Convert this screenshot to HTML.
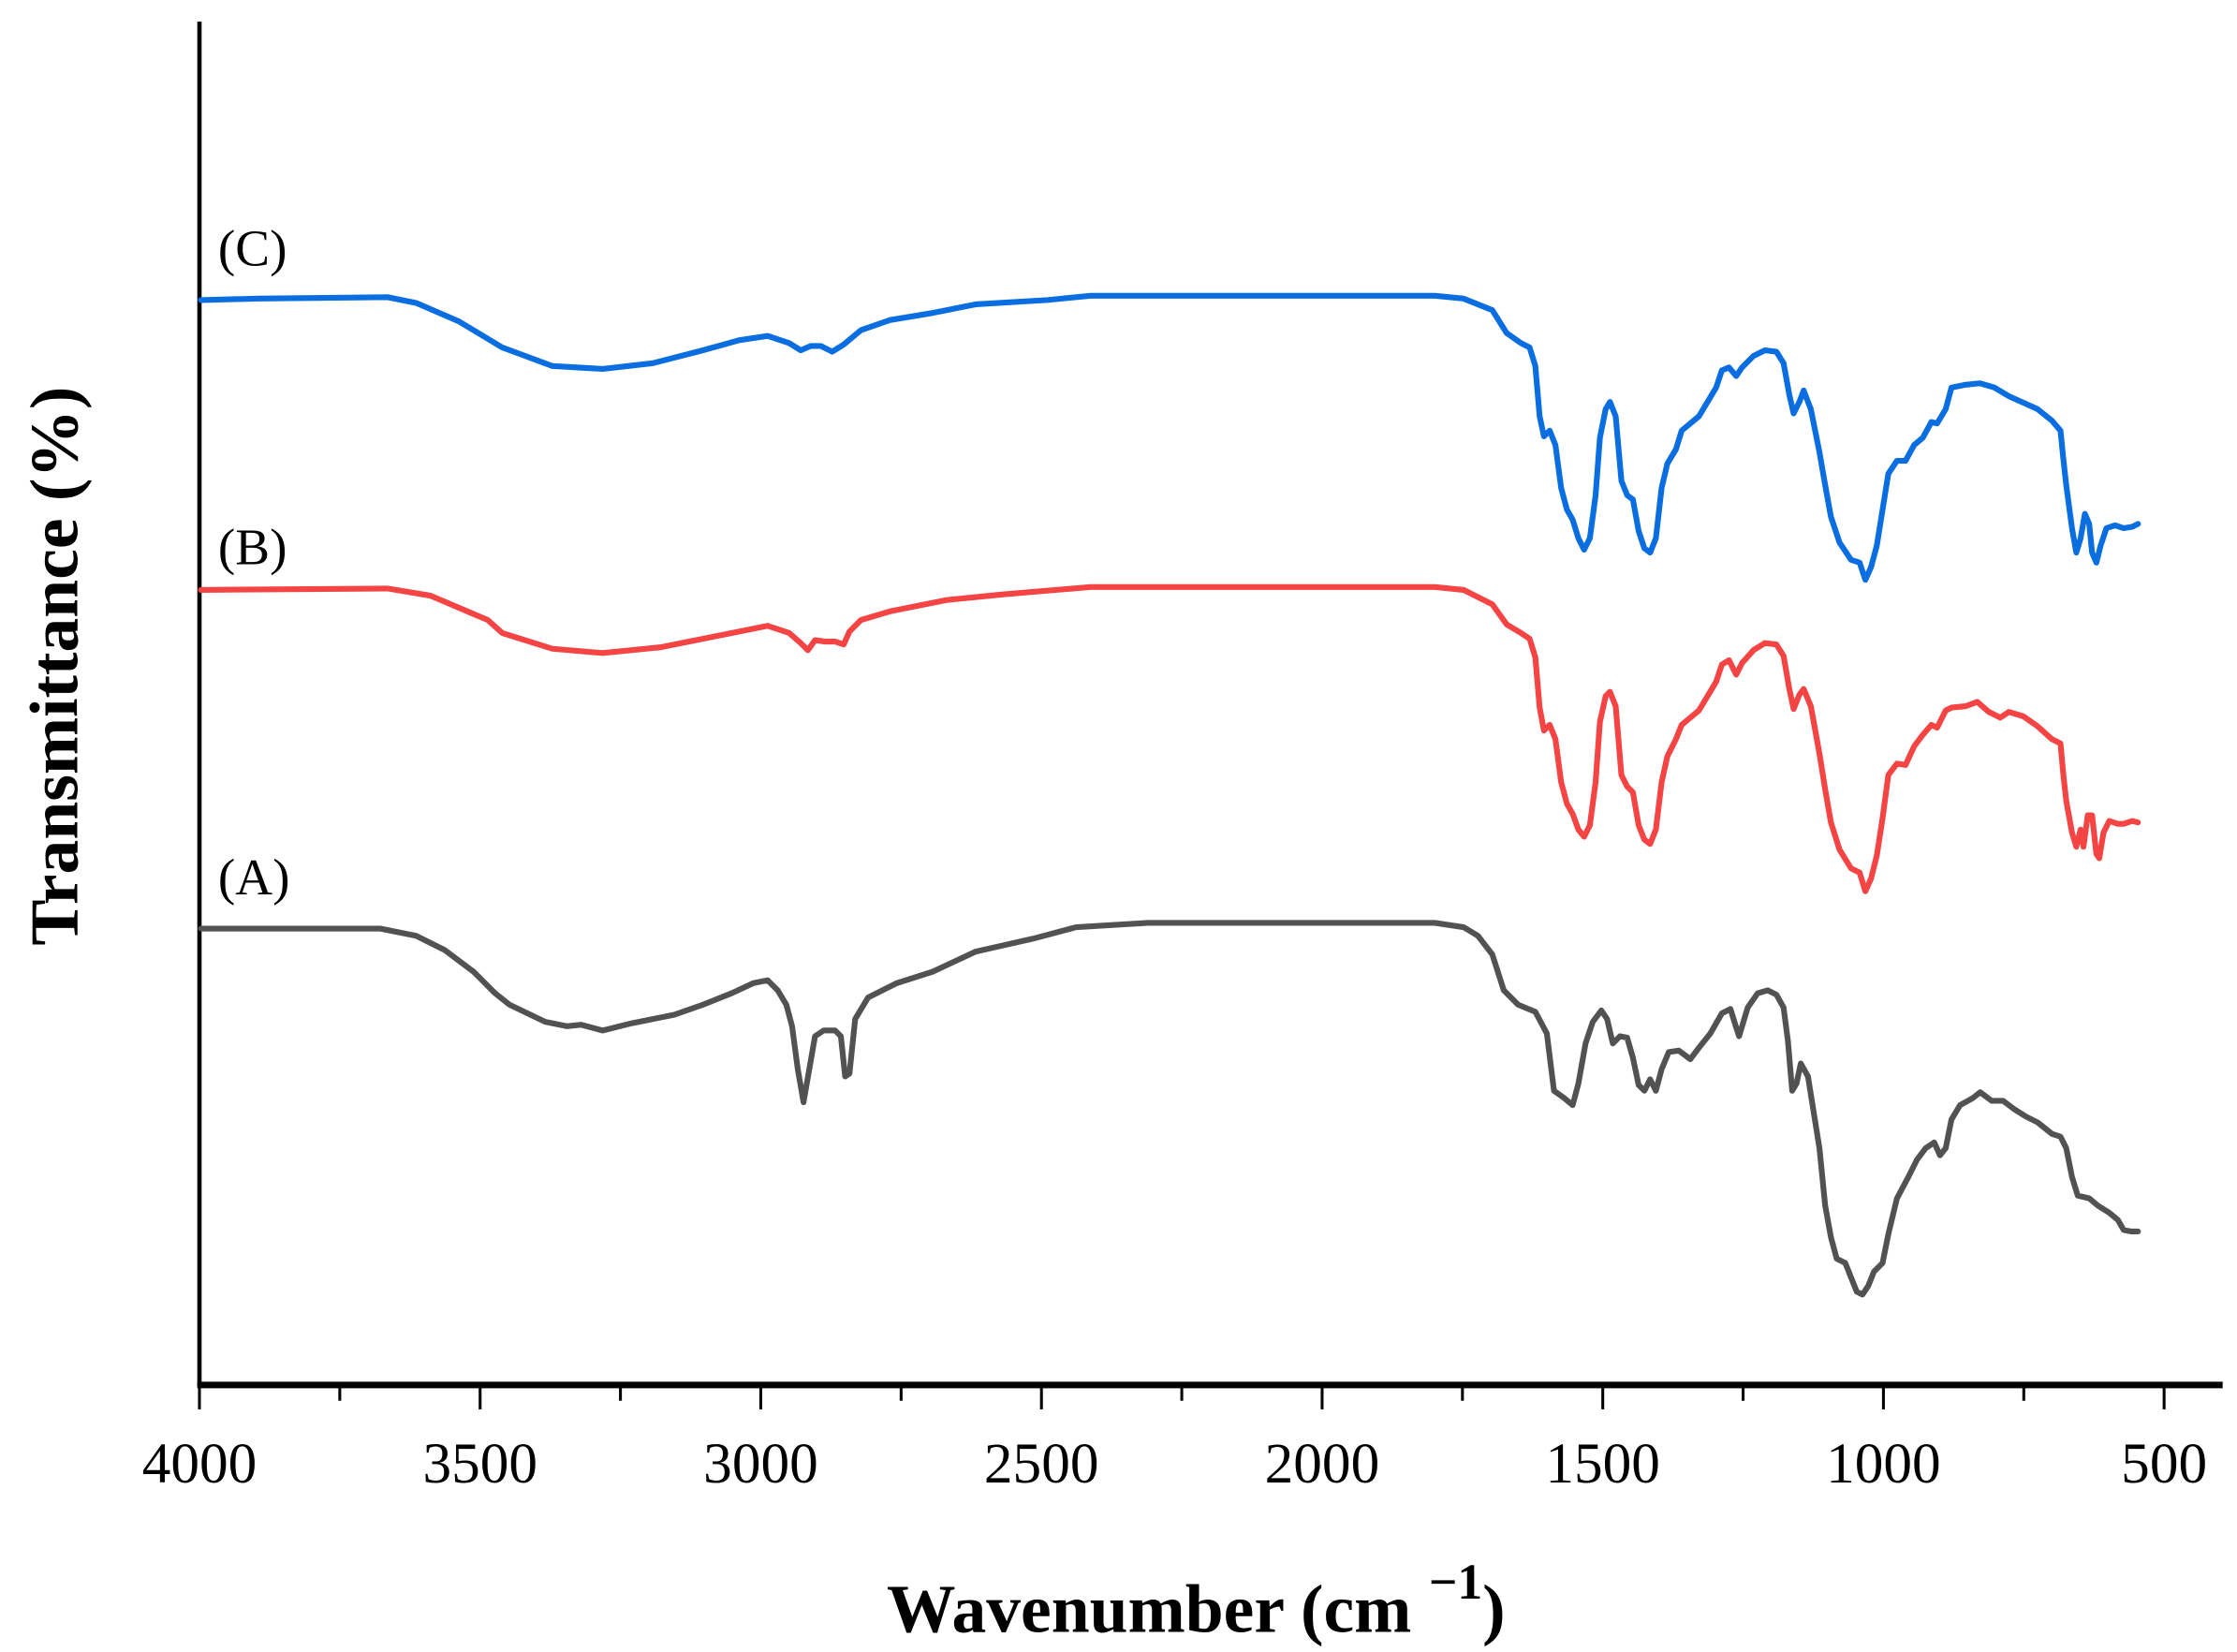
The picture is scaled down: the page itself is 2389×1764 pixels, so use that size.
<!DOCTYPE html>
<html><head><meta charset="utf-8"><style>
html,body{margin:0;padding:0;background:#fff;}
svg{display:block;}
text{font-family:"Liberation Serif",serif;fill:#000;}
</style></head><body>
<svg width="2389" height="1764" viewBox="0 0 1559 1151" xmlns="http://www.w3.org/2000/svg">
<rect width="1559" height="1151" fill="#fff"/>
<line x1="139" y1="15" x2="139" y2="966" stroke="#000" stroke-width="3"/>
<line x1="137.5" y1="965" x2="1549" y2="965" stroke="#000" stroke-width="4.5"/>
<g stroke="#000" stroke-width="2">
<line x1="139" y1="965" x2="139" y2="982"/><line x1="236.8" y1="965" x2="236.8" y2="976"/>
<line x1="334.6" y1="965" x2="334.6" y2="982"/><line x1="432.4" y1="965" x2="432.4" y2="976"/>
<line x1="530.2" y1="965" x2="530.2" y2="982"/><line x1="628" y1="965" x2="628" y2="976"/>
<line x1="725.8" y1="965" x2="725.8" y2="982"/><line x1="823.6" y1="965" x2="823.6" y2="976"/>
<line x1="921.4" y1="965" x2="921.4" y2="982"/><line x1="1019.2" y1="965" x2="1019.2" y2="976"/>
<line x1="1117" y1="965" x2="1117" y2="982"/><line x1="1214.8" y1="965" x2="1214.8" y2="976"/>
<line x1="1312.6" y1="965" x2="1312.6" y2="982"/><line x1="1410.4" y1="965" x2="1410.4" y2="976"/>
<line x1="1508.2" y1="965" x2="1508.2" y2="982"/>
</g>
<g font-size="40" text-anchor="middle">
<text x="139" y="1033">4000</text><text x="334.6" y="1033">3500</text>
<text x="530.2" y="1033">3000</text><text x="725.8" y="1033">2500</text>
<text x="921.4" y="1033">2000</text><text x="1117" y="1033">1500</text>
<text x="1312.6" y="1033">1000</text><text x="1508.2" y="1033">500</text>
</g>
<text x="618" y="1137" font-size="48" font-weight="bold">Wavenumber (cm <tspan dy="-23" font-size="35">−1</tspan><tspan dy="23">)</tspan></text>
<text transform="translate(54,464) rotate(-90)" font-size="48" font-weight="bold" text-anchor="middle">Transmittance (%)</text>
<g font-size="36">
<text x="152" y="185">(C)</text>
<text x="152" y="393">(B)</text>
<text x="152" y="623">(A)</text>
</g>
<g fill="none" stroke-width="4" stroke-linejoin="round" stroke-linecap="round">
<polyline stroke="#0a6ee0" points="140,209 180,208 270,207 290,211 320,224 350,242 385,255 420,257 455,253 490,244 515,237 535,234 550,239 558,244 565,241 572,241 580,245 588,240 600,230 620,223 650,218 680,212 730,209 760,206 850,206 1000,206 1020,208 1040,216 1050,232 1060,239 1066,242 1070,255 1073,290 1076,304 1080,300 1084,310 1088,340 1092,355 1096,362 1100,375 1104,383 1108,375 1112,345 1115,305 1119,285 1122,280 1126,290 1130,335 1134,345 1138,348 1142,370 1146,382 1150,385 1154,375 1158,340 1162,323 1168,313 1172,300 1178,295 1184,290 1190,280 1196,270 1200,258 1205,256 1210,262 1214,256 1222,248 1230,244 1238,245 1243,253 1247,275 1250,288 1254,280 1257,272 1262,285 1268,315 1272,338 1276,360 1282,378 1290,390 1296,392 1300,404 1304,395 1308,380 1312,355 1316,330 1322,321 1328,321 1334,310 1340,305 1346,294 1350,295 1356,285 1360,270 1370,268 1380,267 1390,270 1400,276 1420,285 1430,293 1436,300 1438,320 1440,338 1444,368 1447,385 1450,375 1453,358 1456,365 1458,385 1461,392 1464,380 1468,368 1474,366 1480,368 1486,367 1490,365"/>
<polyline stroke="#f44444" points="140,411 270,410 300,415 340,432 350,441 385,452 420,455 460,451 500,443 535,436 550,441 558,448 563,453 568,446 575,447 582,447 588,449 592,440 600,432 620,426 660,418 700,414 760,409 1000,409 1020,411 1040,421 1050,435 1060,441 1066,445 1070,458 1073,493 1076,509 1080,505 1084,515 1088,545 1092,560 1096,567 1100,578 1104,583 1108,575 1112,545 1115,503 1119,485 1122,482 1126,492 1130,540 1134,548 1138,552 1142,575 1146,585 1150,588 1154,578 1158,545 1162,527 1168,515 1172,505 1178,500 1184,495 1190,485 1196,475 1200,463 1205,460 1210,470 1214,462 1222,453 1230,448 1238,449 1243,457 1247,480 1250,494 1254,484 1257,480 1262,492 1268,525 1272,550 1276,573 1282,592 1290,605 1296,608 1300,621 1304,612 1308,596 1312,570 1316,540 1322,532 1328,533 1334,520 1340,512 1346,505 1350,507 1356,495 1360,493 1370,492 1378,489 1386,496 1394,500 1400,496 1410,499 1420,506 1430,515 1436,518 1438,540 1440,558 1444,580 1447,590 1450,578 1452,590 1455,568 1458,568 1461,595 1463,598 1466,580 1470,572 1476,574 1480,574 1486,572 1490,573"/>
<polyline stroke="#525252" points="140,647 265,647 290,652 310,662 330,677 345,692 355,700 380,712 395,715 405,714 420,718 440,713 470,707 490,700 510,692 525,685 535,683 542,690 548,700 552,715 556,745 560,768 564,745 568,722 574,718 582,718 586,722 589,750 592,748 596,710 605,695 625,685 650,677 680,663 720,654 750,646 800,643 1000,643 1020,646 1030,652 1040,665 1048,690 1058,700 1070,705 1078,720 1083,760 1090,765 1096,770 1100,755 1105,727 1110,712 1116,704 1120,710 1124,727 1129,722 1134,723 1138,737 1142,756 1146,760 1150,752 1154,760 1158,745 1163,733 1170,732 1178,738 1184,730 1192,720 1200,706 1206,703 1210,716 1212,722 1218,702 1225,692 1232,690 1238,693 1243,702 1246,725 1249,760 1252,755 1255,741 1260,750 1264,775 1268,800 1272,840 1276,862 1280,877 1286,880 1290,890 1294,900 1298,902 1302,896 1306,886 1312,880 1316,860 1322,835 1330,820 1336,808 1342,800 1348,796 1352,805 1356,800 1360,780 1366,770 1375,765 1380,761 1388,767 1396,767 1404,773 1412,778 1420,782 1430,790 1436,792 1440,800 1444,820 1448,833 1456,835 1462,840 1470,845 1476,850 1480,857 1485,858 1490,858"/>
</g>
</svg>
</body></html>
